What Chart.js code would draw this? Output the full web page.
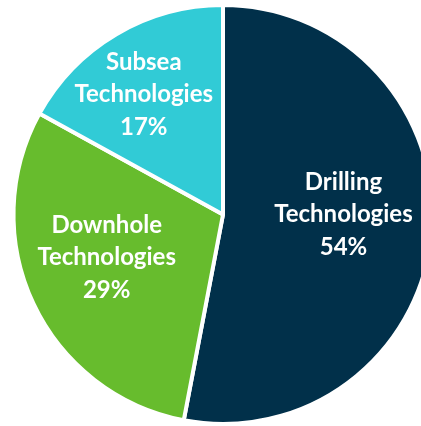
<!DOCTYPE html>
<html>
<head>
<meta charset="utf-8">
<script src="https://cdn.jsdelivr.net/npm/chart.js@4/dist/chart.umd.min.js"></script>
<style>
  html, body { margin: 0; padding: 0; background: #fff; overflow: hidden; }
  #wrap { position: absolute; left: 0; top: 0; width: 446px; height: 426px; }
</style>
</head>
<body>
<div id="wrap"><canvas id="pieChart"></canvas></div>
<script>
const segments = ['Drilling Technologies', 'Downhole Technologies', 'Subsea Technologies'];
const labelLines = [['Drilling', 'Technologies'], ['Downhole', 'Technologies'], ['Subsea', 'Technologies']];
// kích thước lát đo từ hình; nhãn % giữ nguyên như bản gốc
const shares = [53, 30, 17];
const shareLabels = ['54%', '29%', '17%'];
const sliceColors = ['#01304A', '#67BC2D', '#31CBD6'];

// nhãn trong lát: vị trí theo góc giữa của lát + độ lệch nhỏ
const sliceLabels = {
    id: 'sliceLabels',
    afterDatasetsDraw(chart, args, opts) {
        const ctx = chart.ctx;
        const meta = chart.getDatasetMeta(0);
        ctx.save();
        ctx.fillStyle = '#fff';
        ctx.font = opts.font;
        ctx.textAlign = 'center';
        ctx.textBaseline = 'middle';
        meta.data.forEach((arc, i) => {
            const p = arc.getProps(['x', 'y', 'startAngle', 'endAngle', 'outerRadius']);
            const mid = (p.startAngle + p.endAngle) / 2 + opts.angleShift[i] * Math.PI / 180;
            const r = p.outerRadius * opts.radius[i];
            const cx = p.x + Math.cos(mid) * r;
            const cy = p.y + Math.sin(mid) * r;
            const lines = [...labelLines[i], shareLabels[i]];
            lines.forEach((t, k) => {
                ctx.fillText(t, cx, cy + (k - 1) * opts.lineHeight);
            });
        });
        ctx.restore();
    }
};

new Chart(document.getElementById('pieChart'), {
    type: 'pie',
    data: {
        labels: segments,
        datasets: [{
            data: shares,
            backgroundColor: sliceColors,
            borderColor: '#fff',
            borderWidth: 4,
            hoverOffset: 0
        }]
    },
    options: {
        responsive: true,
        maintainAspectRatio: false,
        animation: false,
        layout: { padding: { top: 3, bottom: 0, left: 0, right: 0 } },
        plugins: {
            legend: { display: false },
            tooltip: { enabled: false },
            sliceLabels: {
                font: "bold 24px Lato, 'Open Sans', sans-serif",
                lineHeight: 32.5,
                radius: [0.575, 0.592, 0.687],
                angleShift: [-5.4, 4.9, -2.8]
            }
        }
    },
    plugins: [sliceLabels]
});
</script>
</body>
</html>
